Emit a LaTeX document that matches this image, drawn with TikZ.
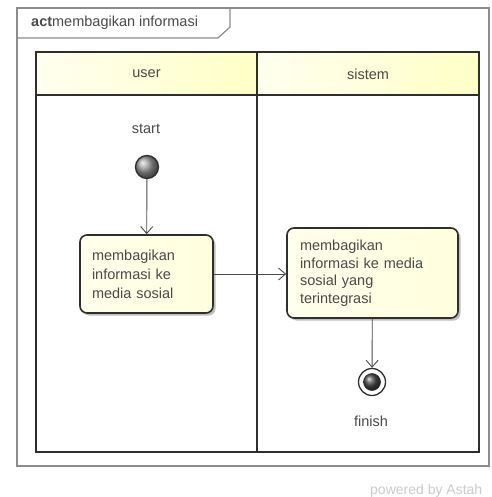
\documentclass[tikz,border=0pt]{standalone}
\usepackage{fontspec}
\setmainfont{Liberation Sans}
\usetikzlibrary{arrows.meta,shadows,shapes.geometric}
\definecolor{ink}{HTML}{4A4A4A}
\definecolor{edge}{HTML}{2E2E2E}
\definecolor{framegray}{HTML}{8C8C8C}
\definecolor{paleyellow}{HTML}{FFFFF0}
\definecolor{headyellow}{HTML}{FFFFC6}
\definecolor{actfill}{HTML}{FFFFDE}
\tikzset{
  base/.style={font=\fontsize{14.5}{17.5}\selectfont, text=ink},
  framebox/.style={draw=framegray, line width=1.2pt},
  lanebox/.style={draw=edge, line width=1.6pt},
  lanehead/.style={lanebox, left color=paleyellow, right color=headyellow},
  actionbox/.style={base, draw=edge, line width=1.6pt, rounded corners=7pt,
    left color=actfill!60!white, right color=actfill, align=left,
    drop shadow={shadow xshift=2.5pt, shadow yshift=-2.5pt, opacity=0.25, fill=black}},
  flow/.style={draw=ink, line width=0.9pt, -{Straight Barb[length=7pt,width=12pt]}},
  label/.style={base, inner sep=0pt}
}
\begin{document}
\begin{tikzpicture}[x=1pt,y=-1pt]
  \clip (0,0) rectangle (491,497);
  \fill[white] (0,0) rectangle (491,497);

  % outer frame and its title tab
  \draw[framebox] (17,8) rectangle (489,466);
  \draw[framebox] (17,38) -- (218,38) -- (230,27) -- (230,8);
  \node[label, anchor=base west] (title) at (31,27)
    {\textbf{act}membagikan informasi};

  % swimlanes
  \draw[lanehead] (36,52) rectangle (257,95);
  \draw[lanehead] (257,52) rectangle (479,95);
  \draw[lanebox] (36,95) rectangle (257,452);
  \draw[lanebox] (257,95) rectangle (479,452);
  \node[label] (laneuser) at (146.5,74) {user};
  \node[label] (lanesys) at (368,74) {sistem};

  % start
  \node[label] (startlbl) at (146,129) {start};
  \node[circle, minimum size=23pt, inner sep=0pt, draw=edge, line width=1.3pt,
        shading=ball, ball color=gray!80] (start) at (147,167) {};

  % actions
  \node[actionbox, text width=109pt, inner xsep=12pt, minimum height=78pt,
        font=\fontsize{14.5}{19}\selectfont] (share) at (146.5,274)
    {membagikan\\informasi ke\\media sosial};
  \node[actionbox, text width=145pt, inner xsep=13pt, minimum height=90pt,
        font=\fontsize{14.5}{17.5}\selectfont] (integrate) at (372.5,273)
    {membagikan\\informasi ke media\\sosial yang\\terintegrasi};

  % finish
  \node[circle, minimum size=27pt, inner sep=0pt, draw=edge, line width=1.3pt,
        fill=white] (finish) at (372,382) {};
  \node[circle, minimum size=17pt, inner sep=0pt, draw=edge, line width=0.6pt,
        shading=ball, ball color=gray!60!black] (finishdot) at (finish.center) {};
  \node[label] (finishlbl) at (371,421) {finish};

  % control flow
  \draw[flow] (start) -- (share);
  \draw[flow] (share.east) -- (integrate.west |- share.east);
  \draw[flow] (integrate) -- (finish);

  % footer
  \node[label, text=gray!40, font=\fontsize{14}{16}\selectfont, anchor=base west]
    (footer) at (370,494) {powered by Astah};
\end{tikzpicture}
\end{document}
